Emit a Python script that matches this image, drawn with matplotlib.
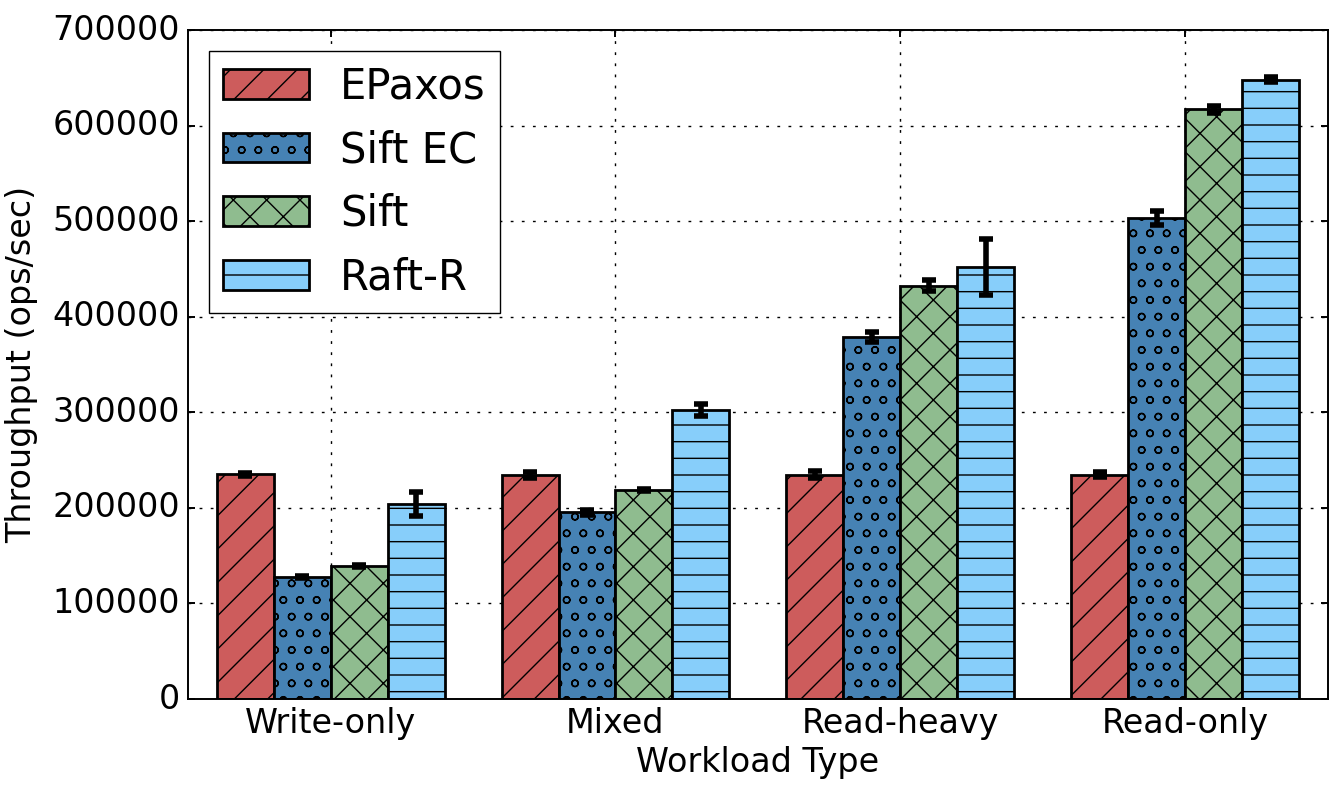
import matplotlib
matplotlib.use("Agg")
import matplotlib.pyplot as plt
import numpy as np

plt.style.use("classic")
plt.rcParams["font.family"] = ["DejaVu Sans"]
plt.rcParams["hatch.linewidth"] = 0.5

categories = ["Write-only", "Mixed", "Read-heavy", "Read-only"]
series = ["EPaxos", "Sift EC", "Sift", "Raft-R"]
epaxos = [235000, 234400, 234800, 234600]
sift_ec = [127300, 195300, 379000, 503500]
sift = [139200, 218700, 432500, 617000]
raft_r = [204000, 302400, 452000, 648000]
epaxos_err = [1500, 3500, 3500, 2500]
sift_ec_err = [1000, 2500, 5000, 7500]
sift_err = [1000, 1500, 6000, 3500]
raft_r_err = [12500, 6000, 29000, 2500]

values = [epaxos, sift_ec, sift, raft_r]
errors = [epaxos_err, sift_ec_err, sift_err, raft_r_err]
colors = ["#CD5C5C", "#4682B4", "#8FBC8F", "#87CEFA"]
hatches = ["//", "oo", "xx", "--"]

fig = plt.figure(figsize=(6.65, 3.935), dpi=200, facecolor="white")
ax = fig.add_axes([0.1414, 0.1118, 0.857, 0.850])
ax.set_facecolor("white")

x = np.arange(len(categories))
width = 0.2
for i, (name, vals, errs) in enumerate(zip(series, values, errors)):
    ax.bar(x + (i - 1.5) * width, vals, width, color=colors[i], hatch=hatches[i],
           edgecolor="black", linewidth=1.0, label=name, align="center",
           yerr=errs, error_kw=dict(ecolor="black", elinewidth=2, capsize=2.5, capthick=2))

ax.set_xlim(-0.5, 3.5)
ax.set_ylim(0, 700000)
ax.set_xticks(x)
ax.set_xticklabels(categories)
ax.set_yticks(np.arange(0, 700001, 100000))
ax.ticklabel_format(axis="y", style="plain")
ax.grid(True, linestyle=":", color="black", linewidth=0.5)
ax.set_axisbelow(True)
for s in ax.spines.values():
    s.set_linewidth(0.7)
ax.tick_params(axis="both", which="major", labelsize=12, size=2.5, width=0.7, pad=3, direction="in")
ax.set_xlabel("Workload Type", fontsize=12, labelpad=2)
ax.set_ylabel("Throughput (ops/sec)", fontsize=12, labelpad=5)

leg = ax.legend(loc="upper left", fontsize=15, handlelength=2.05, handleheight=0.72,
                labelspacing=0.52, handletextpad=0.75, borderpad=0.35, frameon=True, fancybox=False)
leg.get_frame().set_linewidth(0.5)
leg.get_frame().set_edgecolor("black")

fig.savefig("out.png", dpi=200, facecolor="white")
